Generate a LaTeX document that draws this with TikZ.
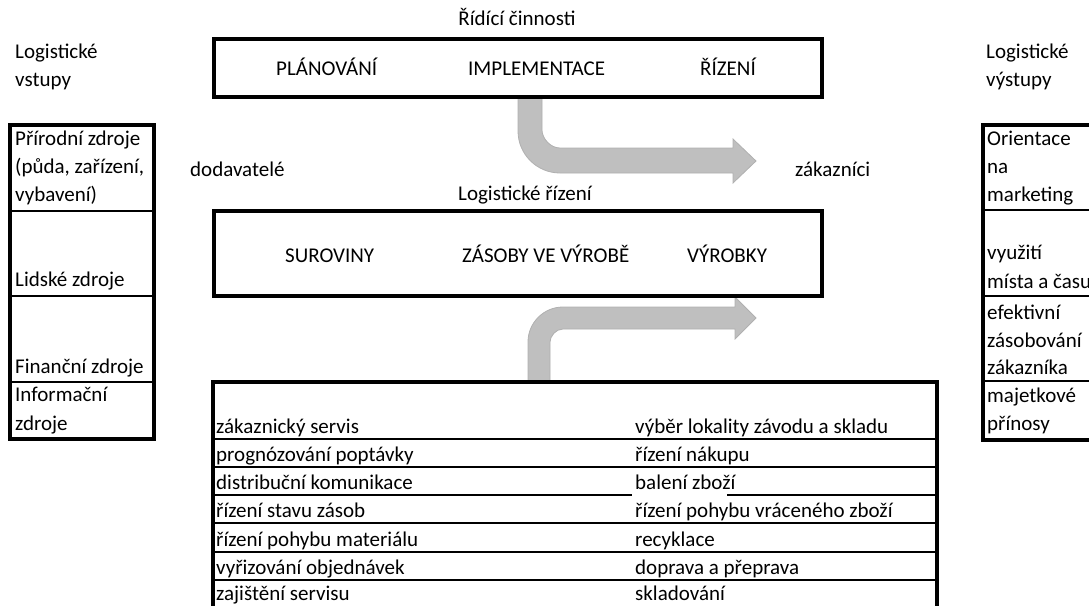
\documentclass[tikz,border=0pt]{standalone}
\usepackage{fontspec}
\setmainfont{Carlito}
\begin{document}
\begin{tikzpicture}[x=1pt,y=-1pt,
  txt/.style={inner sep=0pt, font=\fontsize{21}{28}\selectfont, anchor=base west},
  boxline/.style={draw=black, line width=3.6pt},
  rowline/.style={draw=black, line width=1.8pt},
  blockarrow/.style={fill=gray!50, draw=gray!62, line width=0.8pt}]
\useasboundingbox (0,0) rectangle (1089,605);
\clip (0,0) rectangle (1089,605);

% ---------- block arrows ----------
\path[blockarrow] (518,97) -- (518,131) .. controls (518,154.2) and (536.8,173) .. (560,173)
  -- (733,173) -- (733,183) -- (756,161) -- (733,139) -- (733,148) -- (560,148)
  .. controls (550.1,148) and (542,138.1) .. (542,130) -- (542,97) -- cycle;
\path[blockarrow] (528,381) -- (528,342) .. controls (528,322.7) and (543.7,307) .. (563,307)
  -- (735,307) -- (735,297) -- (756,318) -- (735,339) -- (735,329) -- (563,329)
  .. controls (555.8,329) and (550,336.2) .. (550,342) -- (550,381) -- cycle;

% ---------- left table: logistic inputs ----------
\node[txt] (inhead1) at (15,58) {Logistické};
\node[txt] (inhead2) at (15,86) {vstupy};
\draw[rowline] (10,211) -- (154,211) (10,296) -- (154,296) (10,382) -- (154,382);
\draw[boxline] (10,125) rectangle (154,439);
\node[txt] (in1a) at (15,145) {Přírodní zdroje};
\node[txt] (in1b) at (15,173) {(půda, zařízení,};
\node[txt] (in1c) at (15,201) {vybavení)};
\node[txt] (in2) at (15,286) {Lidské zdroje};
\node[txt] (in3) at (15,373) {Finanční zdroje};
\node[txt] (in4a) at (15,401) {Informační};
\node[txt] (in4b) at (15,430) {zdroje};

% ---------- right table: logistic outputs ----------
\node[txt] (outhead1) at (986,58) {Logistické};
\node[txt] (outhead2) at (986,86) {výstupy};
\draw[rowline] (983,210) -- (1100,210) (983,296) -- (1100,296) (983,381) -- (1100,381);
\draw[boxline] (983,125) rectangle (1110,440);
\node[txt] (out1a) at (987,145) {Orientace};
\node[txt] (out1b) at (987,173) {na};
\node[txt] (out1c) at (987,201) {marketing};
\node[txt] (out2a) at (987,259) {využití};
\node[txt] (out2b) at (987,288) {místa a času};
\node[txt] (out3a) at (987,319) {efektivní};
\node[txt] (out3b) at (987,347) {zásobování};
\node[txt] (out3c) at (987,374) {zákazníka};
\node[txt] (out4a) at (987,402) {majetkové};
\node[txt] (out4b) at (987,430) {přínosy};

% ---------- management activities ----------
\node[txt, anchor=base] (mgmthead) at (517,25) {Řídící činnosti};
\draw[boxline] (214,39) rectangle (822,97);
\node[txt] (plan) at (276,75) {PLÁNOVÁNÍ};
\node[txt] (impl) at (468,75) {IMPLEMENTACE};
\node[txt] (ctrl) at (700,75) {ŘÍZENÍ};

\node[txt] (supp) at (190,176) {dodavatelé};
\node[txt] (cust) at (795,176) {zákazníci};

% ---------- logistic management ----------
\node[txt] (lmhead) at (458,200) {Logistické řízení};
\draw[boxline] (214,211) rectangle (822,296);
\node[txt] (raw) at (285,262) {SUROVINY};
\node[txt] (wip) at (462,262) {ZÁSOBY VE VÝROBĚ};
\node[txt] (fin) at (687,262) {VÝROBKY};

% ---------- activities table ----------
\draw[rowline] (213,439) -- (937,439) (213,467) -- (937,467)
  (213,495) -- (632,495) (727,495) -- (937,495)
  (213,523) -- (937,523)
  (213,552) -- (937,552) (213,580) -- (937,580) (213,608) -- (937,608);
\draw[boxline] (213,382) rectangle (937,640);
\node[txt] (a1) at (216,433) {zákaznický servis};
\node[txt] (a2) at (216,461) {prognózování poptávky};
\node[txt] (a3) at (216,489) {distribuční komunikace};
\node[txt] (a4) at (216,517) {řízení stavu zásob};
\node[txt] (a5) at (216,546) {řízení pohybu materiálu};
\node[txt] (a6) at (216,574) {vyřizování objednávek};
\node[txt] (a7) at (216,600) {zajištění servisu};
\node[txt] (b1) at (635,433) {výběr lokality závodu a skladu};
\node[txt] (b2) at (635,461) {řízení nákupu};
\node[txt] (b3) at (635,489) {balení zboží};
\node[txt] (b4) at (635,517) {řízení pohybu vráceného zboží};
\node[txt] (b5) at (635,546) {recyklace};
\node[txt] (b6) at (635,574) {doprava a přeprava};
\node[txt] (b7) at (635,600) {skladování};
\end{tikzpicture}
\end{document}
